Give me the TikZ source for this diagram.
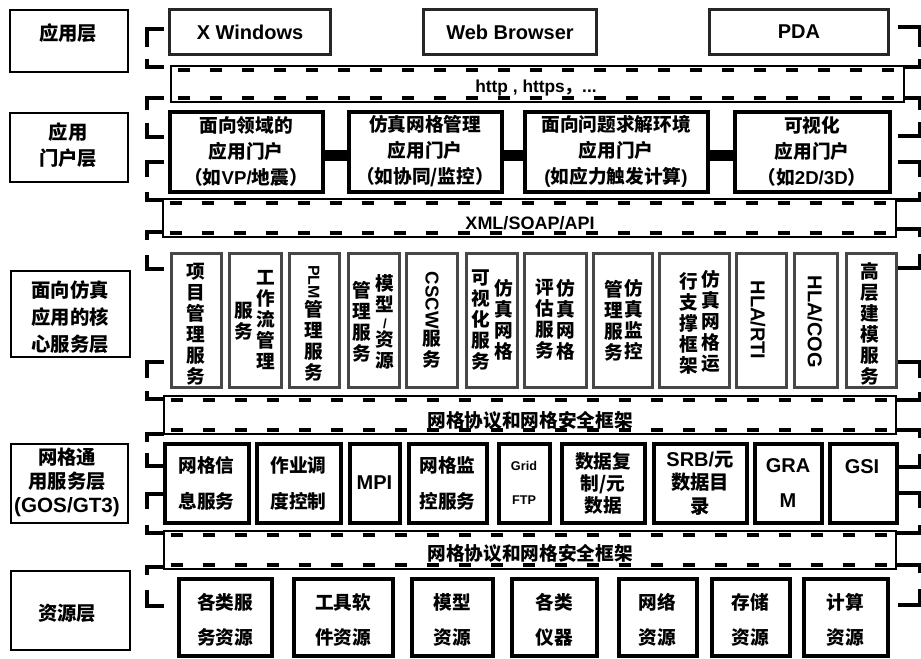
\documentclass[tikz,border=0pt]{standalone}
\usepackage{fontspec}
\usepackage{graphicx}
\setmainfont{Liberation Sans}
\newfontfamily\cjkfont{Noto Sans CJK SC}
\newcommand\cj[1]{{\cjkfont #1}}
\newcommand\lat[1]{{\rmfamily #1}}
\newcommand\rot[1]{\rotatebox{-90}{#1}}
% box from outer corners (px)
\newcommand\bx[7]{\node[#1,minimum width={(#5-#3-3)*0.75pt},minimum height={(#6-#4-3)*0.75pt}] (#2) at ({(#3+#5)/2},{(#4+#6)/2}) {#7};}
\newcommand\busbar[5]{%
 \node[bar,minimum width={(#4-#2-2)*0.75pt},minimum height={(#5-#3-2)*0.75pt}] (#1) at ({(#2+#4)/2},{(#3+#5)/2}) {};
 \draw[busdash] ([xshift=5pt,yshift=-3.2pt]#1.north west) -- ([xshift=-3pt,yshift=-3.2pt]#1.north east);
 \draw[busdash] ([xshift=5pt,yshift=3.2pt]#1.south west) -- ([xshift=-3pt,yshift=3.2pt]#1.south east);}
% left marks
\newcommand\ltop[2]{\draw[mk] (147,#1+#2) -- (147,#1) -- (164,#1);}
\newcommand\lbot[2]{\draw[mk] (147,#1-#2) -- (147,#1) -- (164,#1);}
% right marks
\newcommand\rtop[3]{\draw[mk] (#3,#1) -- (919.5,#1) -- (919.5,#1+#2);}
\newcommand\rbot[3]{\draw[mk] (#3,#1) -- (919.5,#1) -- (919.5,#1-#2);}
\tikzset{
 every node/.style={inner sep=0pt, outer sep=0pt},
 lab/.style={draw, line width=1.5pt},
 labt/.style={font=\cjkfont\bfseries\fontsize{14.5}{20}\selectfont, align=center},
 topbox/.style={draw=black!85, line width=2.2pt, font=\bfseries\fontsize{15}{18}\selectfont},
 portal/.style={draw, line width=3pt, font=\cjkfont\bfseries\fontsize{14}{19.5}\selectfont, align=center},
 bar/.style={draw, line width=1.2pt},
 busdash/.style={line width=3pt, dash pattern=on 9.5pt off 14.5pt},
 bartxt/.style={font=\cjkfont\bfseries\fontsize{14}{16}\selectfont},
 lattxt/.style={font=\bfseries\fontsize{13}{16}\selectfont},
 core/.style={draw=black!72, line width=2.4pt},
 vcol/.style={font=\cjkfont\bfseries\fontsize{14}{15.75}\selectfont, align=center},
 vlat/.style={font=\bfseries\fontsize{15}{16}\selectfont, rotate=-90},
 grid/.style={draw, line width=3pt, align=center, font=\cjkfont\bfseries\fontsize{14}{27}\selectfont},
 res/.style={draw, line width=3pt, align=center, font=\cjkfont\bfseries\fontsize{14}{26.25}\selectfont},
 restxt/.style={align=center, font=\cjkfont\bfseries\fontsize{14}{26.25}\selectfont},
 pconn/.style={line width=8pt},
 mk/.style={line width=3pt},
}
\begin{document}
\begin{tikzpicture}[x=0.75pt,y=-0.75pt]
\useasboundingbox (0,0) rectangle (921,658);
\fill[white] (0,0) rectangle (921,658);

% ---- layer labels
\bx{lab}{L1}{8}{8}{129}{73}{}
\bx{lab}{L2}{8}{111}{129}{183}{}
\bx{lab}{L3}{9}{269}{131}{358}{}
\bx{lab}{L4}{9}{442}{129}{524}{}
\bx{lab}{L5}{9}{569}{131}{651}{}
\node[labt] (l1t) at (68,33) {应用层};
\node[labt] (l2t) at (68,145) {应用\\门户层};
\node[labt] (l3t) at (70,317) {面向仿真\\应用的核\\心服务层};
\node[labt,font=\cjkfont\bfseries\fontsize{14.5}{18}\selectfont] (l4t) at (67,482) {网格通\\用服务层\\\lat{\fontsize{15.5}{18}\selectfont(GOS/GT3)}};
\node[labt] (l5t) at (67,613) {资源层};

% ---- application layer
\bx{topbox}{T1}{168}{8}{332}{56}{X Windows}
\bx{topbox}{T2}{422}{8}{598}{56}{Web Browser}
\bx{topbox}{T3}{708}{8}{890}{56}{PDA}

% ---- http bar
\busbar{B0}{170}{65}{905}{103}
\node[lattxt] (b0t) at (536,88) {http , https\cj{，}...};

% ---- portal layer
\bx{portal}{P1}{168}{110}{324}{193}{面向领域的\\应用门户\\（如\lat{VP/}地震）}
\bx{portal}{P2}{347}{110}{503}{193}{仿真网格管理\\应用门户\\（如协同/监控）}
\bx{portal}{P3}{523}{110}{709}{193}{面向问题求解环境\\应用门户\\\lat{(}如应力触发计算\lat{)}}
\bx{portal}{P4}{733}{110}{891}{193}{可视化\\应用门户\\（如\lat{2D/3D}）}
\draw[pconn] ([yshift=-3pt]P1.east) -- ([yshift=-3pt]P2.west);
\draw[pconn] ([yshift=-3pt]P2.east) -- ([yshift=-3pt]P3.west);
\draw[pconn] ([yshift=-3pt]P3.east) -- ([yshift=-3pt]P4.west);

% ---- XML bar
\busbar{B1}{162}{198}{897}{238}
\node[lattxt,font=\bfseries\fontsize{13.5}{16}\selectfont] (b1t) at (530,223) {XML/SOAP/API};

% ---- core service layer
\bx{core}{C1}{170}{252}{223}{389}{}
\bx{core}{C2}{228}{252}{283}{389}{}
\bx{core}{C3}{288}{252}{341}{389}{}
\bx{core}{C4}{347}{252}{401}{389}{}
\bx{core}{C5}{405}{252}{459}{389}{}
\bx{core}{C6}{465}{252}{519}{389}{}
\bx{core}{C7}{523}{252}{588}{389}{}
\bx{core}{C8}{592}{252}{654}{389}{}
\bx{core}{C9}{658}{252}{731}{389}{}
\bx{core}{C10}{735}{252}{788}{389}{}
\bx{core}{C11}{793}{252}{839}{389}{}
\bx{core}{C12}{845}{252}{898}{389}{}
\node[vcol] (c1t) at (196,324) {项\\目\\管\\理\\服\\务};
\node[vcol] (c2r) at (266,320) {工\\作\\流\\管\\理};
\node[vcol] (c2l) at (244,321) {服\\务};
\node[vcol] (c3t) at (314,323) {\lat{\fontsize{12}{14}\selectfont\rot{PLM}}\\管\\理\\服\\务};
\node[vcol] (c4r) at (385,322) {模\\型\\[-3pt]\lat{\fontsize{10}{10}\selectfont/}\\[-2pt]资\\源};
\node[vcol] (c4l) at (362,322) {管\\理\\服\\务};
\node[vcol] (c5t) at (432,320) {\lat{\fontsize{14}{16}\selectfont\rot{CSCW}}\\服\\务};
\node[vcol] (c6l) at (481,320) {可\\视\\化\\服\\务};
\node[vcol] (c6r) at (504,320) {仿\\真\\网\\格};
\node[vcol] (c7l) at (545,319) {评\\估\\服\\务};
\node[vcol] (c7r) at (566,320) {仿\\真\\网\\格};
\node[vcol] (c8l) at (614,321) {管\\理\\服\\务};
\node[vcol] (c8r) at (634,320) {仿\\真\\监\\控};
\node[vcol] (c9l) at (689,323) {行\\支\\撑\\框\\架};
\node[vcol] (c9r) at (711,321) {仿\\真\\网\\格\\运};
\node[vlat] (c10t) at (758,320) {HLA/RTI};
\node[vlat] (c11t) at (815,322) {HLA/COG};
\node[vcol] (c12t) at (870,324) {高\\层\\建\\模\\服\\务};

% ---- grid protocol bar 1
\busbar{B2}{163}{395}{897}{435}
\node[bartxt] (b2t) at (530,420) {网格协议和网格安全框架};

% ---- grid service layer
\bx{grid}{G1}{163}{442}{250}{524}{网格信\\息服务}
\bx{grid}{G2}{255}{442}{342}{524}{作业调\\度控制}
\bx{grid,font=\bfseries\fontsize{15}{18}\selectfont}{G3}{348}{442}{401}{524}{MPI}
\bx{grid}{G4}{407}{442}{488}{524}{网格监\\控服务}
\bx{grid,font=\bfseries\fontsize{9.5}{25}\selectfont}{G5}{497}{442}{551}{524}{Grid\\FTP}
\bx{grid,font=\cjkfont\bfseries\fontsize{14}{16.5}\selectfont}{G6}{560}{442}{646}{524}{数据复\\制/元\\数据}
\bx{grid,font=\cjkfont\bfseries\fontsize{14.5}{17.6}\selectfont}{G7}{652}{442}{748}{524}{\lat{\fontsize{15}{17.6}\selectfont SRB/}元\\数据目\\录}
\bx{grid,font=\bfseries\fontsize{15}{26}\selectfont}{G8}{753}{442}{823}{524}{GRA\\M}
\bx{grid}{G9}{828}{442}{898}{524}{}
\node[font=\bfseries\fontsize{15}{18}\selectfont] (g9t) at (862,467) {GSI};

% ---- grid protocol bar 2
\busbar{B3}{163}{530}{897}{570}
\node[bartxt] (b3t) at (530,553) {网格协议和网格安全框架};

% ---- resource layer
\bx{res}{R1}{177}{577}{273}{657}{}
\bx{res}{R2}{292}{577}{394}{657}{}
\bx{res}{R3}{410}{577}{494}{657}{}
\bx{res}{R4}{510}{577}{598}{657}{}
\bx{res}{R5}{617}{577}{698}{657}{}
\bx{res}{R6}{710}{577}{791}{657}{}
\bx{res}{R7}{802}{577}{889}{657}{}
\node[restxt] (r1t) at (225,620) {各类服\\务资源};
\node[restxt] (r2t) at (343,620) {工具软\\件资源};
\node[restxt] (r3t) at (452,620) {模型\\资源};
\node[restxt] (r4t) at (554,620) {各类\\仪器};
\node[restxt] (r5t) at (657.5,620) {网络\\资源};
\node[restxt] (r6t) at (750.5,620) {存储\\资源};
\node[restxt] (r7t) at (845.5,620) {计算\\资源};

% ---- left bracket marks
\ltop{29}{18}
\lbot{67}{8}
\ltop{98}{12}
\lbot{137}{14}
\ltop{162}{15}
\lbot{200}{8}
\ltop{232}{8}
\lbot{269}{14}
\ltop{362}{16}
\lbot{399}{8}
\ltop{434}{8}
\lbot{466}{13}
\ltop{494}{15}
\lbot{533}{8}
\ltop{567}{8}
\lbot{606}{16}

% ---- right bracket marks
\rtop{27}{20}{898}
\rbot{67}{8}{905}
\rtop{98}{12}{905}
\rbot{136}{14}{898}
\rtop{162}{15}{898}
\rbot{200}{8}{897}
\rtop{229}{8}{897}
\rbot{268}{14}{898}
\rtop{362}{16}{898}
\rbot{400}{8}{897}
\rtop{430}{8}{897}
\rbot{467}{13}{898}
\rtop{493}{15}{898}
\rbot{533}{8}{897}
\rtop{565}{8}{897}
\rbot{605}{16}{898}
\end{tikzpicture}
\end{document}
